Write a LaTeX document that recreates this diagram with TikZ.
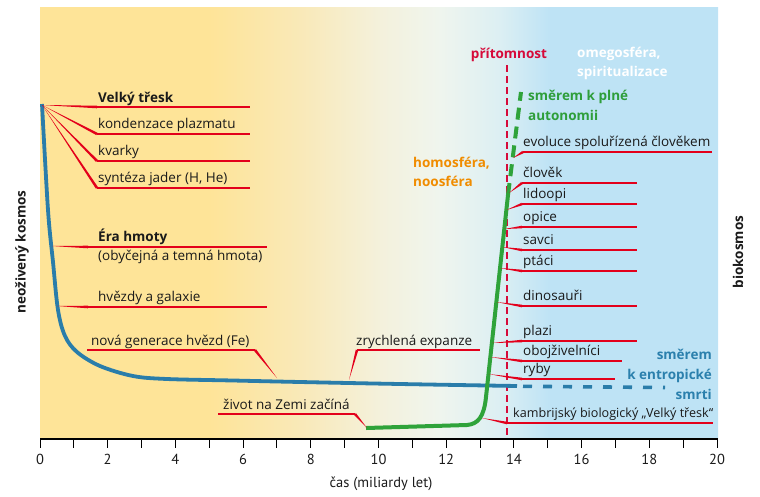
\documentclass[tikz,border=0pt]{standalone}
\usepackage{fontspec}
\setmainfont{Open Sans}
\newfontfamily\tickfont{PT Sans}
\usetikzlibrary{calc}
\definecolor{txt}{HTML}{1A1A1A}
\definecolor{leadred}{HTML}{E3001B}
\definecolor{presred}{HTML}{D60A3A}
\definecolor{bluecurve}{HTML}{2A7DAA}
\definecolor{bluetext}{HTML}{2B80AD}
\definecolor{greencurve}{HTML}{2FA33A}
\definecolor{greentext}{HTML}{2E9E3A}
\definecolor{orangetext}{HTML}{F08C00}
\definecolor{bgyel}{HTML}{FEE498}
\definecolor{bgcream}{HTML}{F9E9B8}
\definecolor{bgpale}{HTML}{F4F1DC}
\definecolor{bgwhite}{HTML}{EFF5EE}
\definecolor{bgcyan}{HTML}{DCEFF3}
\definecolor{bgblue}{HTML}{BEE3F5}
\pgfdeclarehorizontalshading{bgshade}{100bp}{color(0bp)=(bgyel); color(37.5bp)=(bgyel); color(44.2bp)=(bgcream); color(50.1bp)=(bgpale); color(54.5bp)=(bgwhite); color(58.9bp)=(bgcyan); color(62.6bp)=(bgblue); color(100bp)=(bgblue)}
\newcommand\leadline[4]{%
  \coordinate (#1a) at (#2);
  \coordinate (#1c) at (#3);
  \coordinate (#1e) at (#4);
  \fill[leadred] (#1a) -- ($(#1c)!1.3pt!90:(#1a)$) -- ($(#1c)!1.3pt!-90:(#1a)$) -- cycle;
  \draw[uline] (#1c) -- (#1e);}
\begin{document}
\begin{tikzpicture}[x=1pt,y=-1pt,
  lbl/.style={anchor=base west, inner sep=0pt, text=txt, font=\fontsize{13.5}{16}\selectfont},
  blbl/.style={lbl, font=\fontsize{13.5}{16}\selectfont\bfseries},
  uline/.style={draw=leadred, line width=2.6pt},
  ticklbl/.style={anchor=base, inner sep=0pt, text=txt, font=\tickfont\fontsize{14.5}{16}\selectfont}]
\useasboundingbox (0,0) rectangle (760,496);
\shade[shading=bgshade] (40,7) rectangle (718,439);

% present line
\coordinate (prtop) at (507,65);
\coordinate (prbot) at (507,438);
\draw[presred, line width=1.8pt, dash pattern=on 7pt off 4pt] (prtop) -- (prbot);
\node[anchor=base, inner sep=0pt, text=presred, font=\fontsize{13.5}{16}\selectfont\bfseries] (pres) at (509,58) {přítomnost};

% blue curve (inanimate cosmos)
\draw[bluecurve, line width=3.8pt, line cap=butt] plot[smooth, tension=0.55] coordinates {(42,104) (48,210) (53,262) (58,310) (65,336) (77,352) (100,366) (133,376) (167,379) (233,380.5) (300,382) (400,384) (517,386)};
\coordinate (bdash0) at (523,386.3);
\coordinate (bdash1) at (665,387.5);
\draw[bluecurve, line width=3.6pt, dash pattern=on 9pt off 11pt] (bdash0) -- (bdash1);

% green curve (biocosmos)
\coordinate (g0) at (366,428);
\coordinate (g1) at (467,425);
\coordinate (g2) at (486,397);
\coordinate (g3) at (508,195);
\coordinate (g4) at (521,92);
\draw[greencurve, line width=4pt, line join=round] (g0) -- (g1) .. controls (478,424) and (484,417) .. (g2) -- (g3);
\draw[greencurve, line width=4pt, dash pattern=on 12pt off 7pt] (g3) -- (g4);

% leaders, left fan
\coordinate (bb) at (42,105);
\leadline{l1}{42,105}{97,107}{250,107}
\leadline{l2}{42,105}{97,134}{250,134}
\leadline{l3}{42,105}{97,161}{250,161}
\leadline{l4}{42,105}{97,188}{250,188}
\leadline{l5}{52,246}{88,247}{267,247}
\leadline{l6}{57,306}{88,307}{267,307}
\leadline{l7}{277,378}{255,350}{87,350}
\leadline{l8}{367,428}{355,414}{218,414}
\leadline{l9}{349,380}{357,350}{480,350}
% leaders, right
\leadline{r1}{513,158}{523,152}{712,152}
\leadline{r2}{509,193}{522,183}{637,183}
\leadline{r3}{506.5,210}{522,204}{637,204}
\leadline{r4}{504.5,229}{522,227}{637,227}
\leadline{r5}{502.5,247}{522,250}{637,250}
\leadline{r6}{500,268}{522,271}{637,271}
\leadline{r7}{496.5,302}{522,306}{637,306}
\leadline{r8}{492,343}{522,341}{637,341}
\leadline{r9}{490.5,357}{522,361}{622,361}
\leadline{r10}{488.5,374}{522,379}{615,379}
\leadline{r11}{482,418}{507,423}{713,423}

% left labels
\node[blbl] (t1) at (98,102) {Velký třesk};
\node[lbl] (t2) at (98,128.5) {kondenzace plazmatu};
\node[lbl] (t3) at (98,155.5) {kvarky};
\node[lbl] (t4) at (98,182.5) {syntéza jader (H, He)};
\node[blbl] (t5) at (98,241.5) {Éra hmoty};
\node[lbl] (t5b) at (98,260.5) {(obyčejná a temná hmota)};
\node[lbl] (t6) at (98,301) {hvězdy a galaxie};
\node[lbl] (t7) at (91,345) {nová generace hvězd (Fe)};
\node[lbl] (t8) at (223,409) {život na Zemi začíná};
\node[lbl] (t9) at (356,345) {zrychlená expanze};
% right labels
\node[lbl] (s1) at (523,146) {evoluce spoluřízená člověkem};
\node[lbl] (s2) at (523,177) {člověk};
\node[lbl] (s3) at (523,198.5) {lidoopi};
\node[lbl] (s4) at (523,221.5) {opice};
\node[lbl] (s5) at (523,244) {savci};
\node[lbl] (s6) at (523,265.5) {ptáci};
\node[lbl] (s7) at (523,300) {dinosauři};
\node[lbl] (s8) at (523,335.5) {plazi};
\node[lbl] (s9) at (523,355) {obojživelníci};
\node[lbl] (s10) at (523,373.5) {ryby};
\node[lbl, font=\fontsize{12.6}{16}\selectfont] (s11) at (513,417.5) {kambrijský biologický „Velký třesk“};

% coloured labels
\node[blbl, text=white] (om1) at (577,57) {omegosféra,};
\node[blbl, text=white] (om2) at (577,76) {spiritualizace};
\node[blbl, text=greentext] (au1) at (528,100) {směrem k plné};
\node[blbl, text=greentext] (au2) at (528,120) {autonomii};
\node[blbl, text=orangetext] (ho1) at (413,167) {homosféra,};
\node[blbl, text=orangetext] (ho2) at (413,186) {noosféra};
\node[blbl, anchor=base east, text=bluetext] (en1) at (712,359) {směrem};
\node[blbl, anchor=base east, text=bluetext] (en2) at (712,379) {k entropické};
\node[blbl, anchor=base east, text=bluetext] (en3) at (712,399) {smrti};

% side labels
\node[blbl, anchor=center, rotate=90] (nk) at (22,252) {neoživený kosmos};
\node[blbl, anchor=center, rotate=90] (bk) at (738,252) {biokosmos};

% axis
\coordinate (ax0) at (40,439);
\coordinate (ax1) at (718,439);
\draw[black, line width=1.1pt] (ax0) -- (ax1);
\foreach \i in {0,...,20} {
  \draw[black, line width=1pt] ({40+33.85*\i},439) -- ({40+33.85*\i},448);
}
\foreach \i in {0,2,...,20} {
  \node[ticklbl] at ({40+33.85*\i},464) {\i};
}
\node[ticklbl] (xl) at (381,487) {čas (miliardy let)};
\end{tikzpicture}
\end{document}
